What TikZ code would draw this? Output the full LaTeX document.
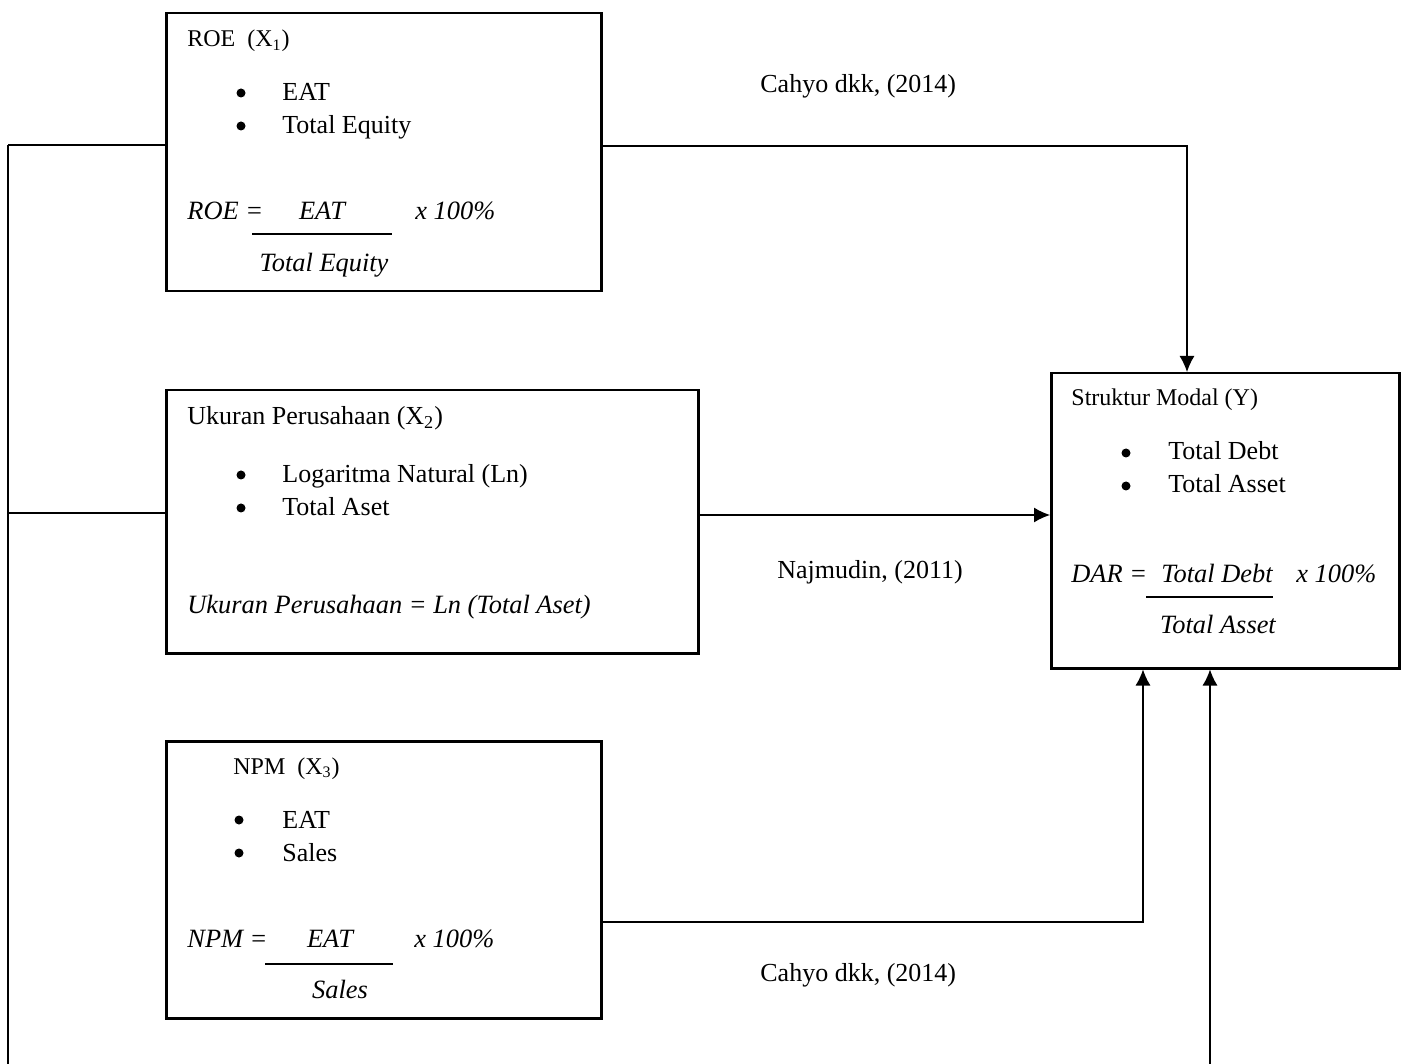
\documentclass[tikz,border=0pt]{standalone}
\usepackage{fontspec}
\setmainfont{Liberation Serif}
\usetikzlibrary{arrows.meta}
\begin{document}
\begin{tikzpicture}[x=0.5pt,y=-0.5pt,
  box/.style={draw,line width=1.25pt,inner sep=0pt,anchor=north west},
  conn/.style={line width=0.65pt},
  arr/.style={conn,-{Latex[length=8pt,width=7.5pt]}},
  txt/.style={inner sep=0pt,anchor=base west,font=\fontsize{13}{15}\selectfont},
  ttl/.style={inner sep=0pt,anchor=base west,font=\fontsize{12}{14}\selectfont},
  ctxt/.style={txt,anchor=base},
  itxt/.style={txt,font=\fontsize{13.2}{15}\selectfont\itshape},
  ictxt/.style={itxt,anchor=base},
  bul/.style={circle,fill,draw=none,inner sep=0pt,minimum size=4.5pt},
  frac/.style={line width=0.6pt}]
\useasboundingbox (0,0) rectangle (1405,1064);

% boxes
\node[box,minimum width=217.5pt,minimum height=139pt] (roe) at (165,12) {};
\node[box,minimum width=266pt,minimum height=131.5pt] (size) at (165,389) {};
\node[box,minimum width=217.5pt,minimum height=138.5pt] (npm) at (165,740) {};
\node[box,minimum width=174pt,minimum height=147.5pt] (y) at (1050,372) {};

% ROE box
\node[ttl] (roet) at (187,47) {ROE\ \ (X\textsubscript{1})};
\node[bul] (roeb1) at (241,93) {};
\node[bul] (roeb2) at (241,126) {};
\node[txt] (roei1) at (282,101) {EAT};
\node[txt] (roei2) at (282,134) {Total Equity};
\node[itxt] (roef) at (187,220) {ROE =};
\node[ictxt] (roen) at (322,220) {EAT};
\node[itxt] (roex) at (415,220) {x 100\%};
\coordinate (roel1) at (252,234);
\coordinate (roel2) at (392,234);
\draw[frac] (roel1) -- (roel2);
\node[ictxt] (roed) at (324,272) {Total Equity};

% Size box
\node[txt] (sizet) at (187,425) {Ukuran Perusahaan (X\textsubscript{2})};
\node[bul] (sizeb1) at (241,475) {};
\node[bul] (sizeb2) at (241,508) {};
\node[txt] (sizei1) at (282,483) {Logaritma Natural (Ln)};
\node[txt] (sizei2) at (282,516) {Total Aset};
\node[itxt] (sizef) at (187,614) {Ukuran Perusahaan = Ln (Total Aset)};

% NPM box
\node[ttl] (npmt) at (233,774) {NPM\ \ (X\textsubscript{3})};
\node[bul] (npmb1) at (239,820) {};
\node[bul] (npmb2) at (239,853) {};
\node[txt] (npmi1) at (282,828) {EAT};
\node[txt] (npmi2) at (282,861) {Sales};
\node[itxt] (npmf) at (187,947) {NPM =};
\node[ictxt] (npmn) at (330,947) {EAT};
\node[itxt] (npmx) at (414,947) {x 100\%};
\coordinate (npml1) at (265,964);
\coordinate (npml2) at (393,964);
\draw[frac] (npml1) -- (npml2);
\node[ictxt] (npmd) at (340,998) {Sales};

% Y box
\node[ttl] (yt) at (1071,406) {Struktur Modal (Y)};
\node[bul] (yb1) at (1126,453) {};
\node[bul] (yb2) at (1126,486) {};
\node[txt] (yi1) at (1168,460) {Total Debt};
\node[txt] (yi2) at (1168,493) {Total Asset};
\node[itxt] (yf) at (1071,582) {DAR =};
\node[itxt] (yn) at (1161,582) {Total Debt};
\node[itxt] (yx) at (1296,582) {x 100\%};
\coordinate (yl1) at (1146,597);
\coordinate (yl2) at (1273,597);
\draw[frac] (yl1) -- (yl2);
\node[ictxt] (yd) at (1218,633) {Total Asset};

% labels
\node[txt] (lab1) at (760,93) {Cahyo dkk, (2014)};
\node[txt] (lab2) at (777,579) {Najmudin, (2011)};
\node[txt] (lab3) at (760,981) {Cahyo dkk, (2014)};

% connectors
\coordinate (ltop) at (8,145);
\coordinate (lmid) at (8,513);
\coordinate (lbot) at (8,1064);
\draw[conn] (ltop) -- (lbot);
\draw[conn] (ltop) -- (ltop -| roe.west);
\draw[conn] (lmid) -- (lmid -| size.west);

\coordinate (c1) at (1187,146);
\draw[arr] (c1 -| roe.east) -- (c1) -- (c1 |- y.north);
\coordinate (c2) at (900,515);
\draw[arr] (c2 -| size.east) -- (c2 -| y.west);
\coordinate (c3) at (1143,922);
\draw[arr] (c3 -| npm.east) -- (c3) -- (c3 |- y.south);
\coordinate (c4) at (1210,1064);
\draw[arr] (c4) -- (c4 |- y.south);
\end{tikzpicture}
\end{document}
